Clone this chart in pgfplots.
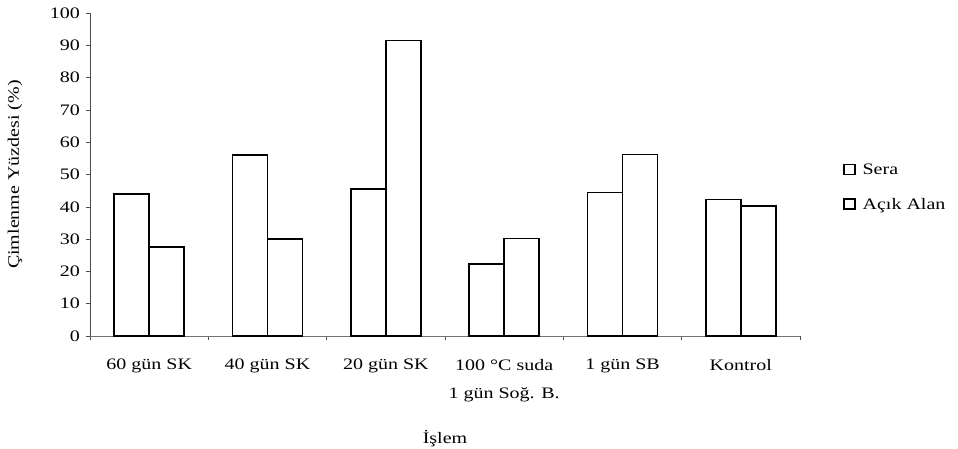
\documentclass[border=0pt]{standalone}
\usepackage{fontspec}
\setmainfont{Liberation Serif}[FakeStretch=1.25]
\usepackage{pgfplots}
\pgfplotsset{compat=1.18}

\pgfplotstableread{
idx sera acik
0   44.0  27.6
1   56.0  30.0
2   45.5  91.5
3   22.3  30.2
4   44.4  56.2
5   42.3  40.3
}\germ

\begin{document}
\begin{tikzpicture}[x=1pt,y=1pt]
\path[use as bounding box] (-90pt,-112pt) rectangle (868pt,336pt);
\begin{axis}[
  at={(0pt,0pt)}, anchor=south west,
  scale only axis,
  width=710pt, height=323pt,
  xmin=-0.5, xmax=5.5,
  ymin=0, ymax=100,
  axis lines=left,
  axis line style={-},
  x axis line style={draw=black!55, line width=0.8pt},
  y axis line style={draw=black!70, line width=0.8pt},
  tick align=outside,
  major tick length=4pt,
  tick style={draw=black!70, line width=0.6pt},
  ytick={0,10,...,100},
  xtick={-0.5,0.5,...,5.5},
  xticklabels={},
  extra x ticks={0,1,2,3,4,5},
  extra x tick labels={{60 gün SK},{40 gün SK},{20 gün SK},{100 °C suda\\1 gün Soğ. B.},{1 gün SB},{Kontrol}},
  extra x tick style={major tick length=0pt,
    xticklabel style={align=center, anchor=north, inner sep=0pt, yshift=-23pt,
      font=\fontsize{16}{28}\selectfont}},
  /pgf/number format/assume math mode=true,
  yticklabel style={font=\fontsize{16}{19}\selectfont, anchor=east, inner sep=0pt, xshift=-6pt},
  every axis y label/.style={at={(axis description cs:-0.1056,0.5)}, rotate=90, anchor=center},
  every axis x label/.style={at={(axis description cs:0.5,-0.334)}, anchor=base},
  ylabel={\fontsize{16}{19}\selectfont Çimlenme Yüzdesi (\%)},
  xlabel={\fontsize{16}{19}\selectfont İşlem},
  ybar=0pt,
  bar width=35pt,
  legend style={draw=none, fill=none, inner sep=0pt,
    at={(rel axis cs:1.0606,0.4605)}, anchor=west,
    font=\fontsize{16}{19}\selectfont, row sep=18pt,
    /tikz/every odd column/.append style={column sep=5pt}},
  legend cell align=left,
  legend image code/.code={\draw[black, fill=white, line width=1.4pt] (0pt,-4.5pt) rectangle (11pt,5.5pt);},
]
\addplot[draw=black, fill=white, line width=1.6pt] table[x=idx, y=sera] {\germ};
\addplot[draw=black, fill=white, line width=1.6pt] table[x=idx, y=acik] {\germ};
\legend{Sera, Açık Alan}
\end{axis}
\end{tikzpicture}
\end{document}
